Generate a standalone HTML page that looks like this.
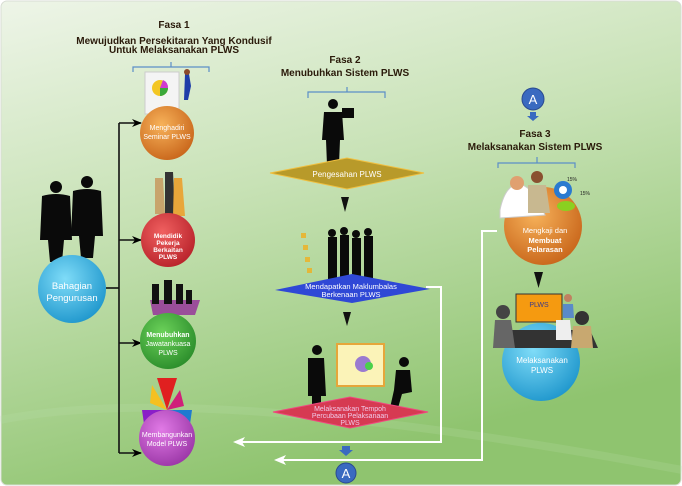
<!DOCTYPE html>
<html><head><meta charset="utf-8"><style>
html,body{margin:0;padding:0;background:#fff;}
svg{display:block;}
text{font-family:"Liberation Sans",sans-serif;}
</style></head><body>
<svg width="682" height="486" viewBox="0 0 682 486" xmlns="http://www.w3.org/2000/svg">
<defs>
<linearGradient id="bg" x1="0" y1="0" x2="0.35" y2="1">
<stop offset="0" stop-color="#eef5e8"/><stop offset="0.45" stop-color="#c8e2b6"/><stop offset="1" stop-color="#8fc46f"/>
</linearGradient>
<radialGradient id="gO" cx="0.4" cy="0.35" r="0.7"><stop offset="0" stop-color="#f7b25a"/><stop offset="1" stop-color="#c8651a"/></radialGradient>
<radialGradient id="gR" cx="0.4" cy="0.35" r="0.7"><stop offset="0" stop-color="#f06060"/><stop offset="1" stop-color="#b8222a"/></radialGradient>
<radialGradient id="gG" cx="0.4" cy="0.35" r="0.7"><stop offset="0" stop-color="#6cd25a"/><stop offset="1" stop-color="#2a8c2a"/></radialGradient>
<radialGradient id="gP" cx="0.4" cy="0.35" r="0.7"><stop offset="0" stop-color="#e17ae6"/><stop offset="1" stop-color="#9a36a6"/></radialGradient>
<radialGradient id="gB" cx="0.4" cy="0.35" r="0.7"><stop offset="0" stop-color="#7fdcf8"/><stop offset="1" stop-color="#1e96cc"/></radialGradient>
<marker id="ah" markerWidth="10" markerHeight="8" refX="9" refY="4" orient="auto" markerUnits="userSpaceOnUse"><path d="M0,0 L10,4 L0,8 L3,4z" fill="#000"/></marker>
</defs>
<rect x="0" y="0" width="682" height="486" fill="#fff"/>
<rect x="1" y="1" width="680" height="484" rx="6" fill="url(#bg)" stroke="#d8ddd4"/>
<path d="M0,420 Q200,380 682,470" stroke="#bfe0ad" stroke-width="8" fill="none" opacity="0.2"/>

<g font-weight="bold" font-size="10" fill="#2a1a0a" text-anchor="middle">
<text x="174" y="28">Fasa 1</text>
<text x="174" y="44">Mewujudkan Persekitaran Yang Kondusif</text>
<text x="174" y="53">Untuk Melaksanakan PLWS</text>
<text x="345" y="63">Fasa 2</text>
<text x="345" y="76">Menubuhkan Sistem PLWS</text>
<text x="535" y="137">Fasa 3</text>
<text x="535" y="150">Melaksanakan Sistem PLWS</text>
</g>
<g stroke="#5b8ec7" stroke-width="1.2" fill="none">
<path d="M133,72 V67 H171 V62 M171,67 H209 V72"/>
<path d="M308,98 V92 H347 V87 M347,92 H385 V98"/>
<path d="M498,168 V163 H537 V157 M537,163 H575 V168"/>
</g>

<g stroke="#111" stroke-width="1.6" fill="none">
<path d="M106,288 H119"/>
<path d="M119,123 V453"/>
<path d="M119,123 H141" marker-end="url(#ah)"/>
<path d="M119,240 H141" marker-end="url(#ah)"/>
<path d="M119,343 H141" marker-end="url(#ah)"/>
<path d="M119,453 H141" marker-end="url(#ah)"/>
</g>

<g fill="#0a0a0a">
<circle cx="56" cy="187" r="6"/><path d="M42,196 Q56,192 70,196 L72,240 L64,240 L62,262 L50,262 L48,240 L40,240Z"/>
<circle cx="87" cy="182" r="6"/><path d="M73,191 Q87,187 101,191 L103,236 L95,236 L93,258 L81,258 L79,236 L71,236Z"/>
</g>
<circle cx="72" cy="289" r="34" fill="url(#gB)"/>
<text x="72" y="289" font-size="9.5" fill="#fff" text-anchor="middle">Bahagian</text>
<text x="72" y="301" font-size="9.5" fill="#fff" text-anchor="middle">Pengurusan</text>

<rect x="145" y="72" width="34" height="42" fill="#f4f4f4" stroke="#ccc"/>
<circle cx="160" cy="88" r="8" fill="#f3c623"/><path d="M160,88 L168,88 A8,8 0 0 0 163,80Z" fill="#d03ad0"/><path d="M160,88 L160,96 A8,8 0 0 0 168,88Z" fill="#3aa83a"/>
<path d="M185,74 l4,0 l2,12 l-3,14 l-4,0z" fill="#1e3ea8"/><circle cx="187" cy="72" r="3" fill="#8b4a2a"/>
<circle cx="167" cy="133" r="27" fill="url(#gO)"/>
<text x="167" y="130" font-size="7" fill="#fff" text-anchor="middle">Menghadiri</text>
<text x="167" y="139" font-size="7" fill="#fff" text-anchor="middle">Seminar PLWS</text>
<path d="M155,178 l8,0 l2,36 l-10,0z" fill="#c8a46c"/><path d="M165,172 l8,0 l2,42 l-10,0z" fill="#333"/><path d="M174,178 l8,0 l3,38 l-12,0z" fill="#e8a63a"/>
<circle cx="168" cy="240" r="27" fill="url(#gR)"/>
<g font-size="6.5" font-weight="bold" fill="#fff" text-anchor="middle"><text x="168" y="238">Mendidik</text><text x="168" y="245">Pekerja</text><text x="168" y="252">Berkaitan</text><text x="168" y="259">PLWS</text></g>
<path d="M150,300 l50,0 l-5,15 l-42,0z" fill="#9a4e9a"/>
<g fill="#111"><rect x="152" y="284" width="7" height="20"/><rect x="164" y="280" width="8" height="24"/><rect x="176" y="284" width="7" height="20"/><rect x="186" y="290" width="6" height="14"/></g>
<circle cx="168" cy="341" r="28" fill="url(#gG)"/>
<g font-size="7" fill="#fff" text-anchor="middle"><text x="168" y="337" font-weight="bold">Menubuhkan</text><text x="168" y="346">Jawatankuasa</text><text x="168" y="355">PLWS</text></g>
<g><path d="M167,410 L157,378 L177,378Z" fill="#e02020"/><path d="M167,410 L152,385 L150,403Z" fill="#f5c020"/><path d="M167,410 L142,410 L144,424Z" fill="#8a1ec8"/><path d="M167,410 L192,410 L190,424Z" fill="#1e7ad0"/><path d="M167,410 L180,390 L184,406Z" fill="#d0207a"/></g>
<circle cx="167" cy="438" r="28" fill="url(#gP)"/>
<g font-size="7" fill="#fff" text-anchor="middle"><text x="167" y="437">Membangunkan</text><text x="167" y="446">Model PLWS</text></g>

<g fill="#0a0a0a"><circle cx="333" cy="104" r="5"/><path d="M324,112 l18,0 l2,28 l-4,0 l-1,25 l-12,0 l-1,-25 l-4,0z"/><rect x="342" y="108" width="12" height="10"/></g>
<polygon points="270,173 347,158 424,173 347,189" fill="#b89a2a" stroke="#f0c040" stroke-width="1"/>
<text x="347" y="177" font-size="8" fill="#fff" text-anchor="middle">Pengesahan PLWS</text>
<path d="M341,197 L349,197 L345,212 Z" fill="#111"/>

<g fill="#f0b020" opacity="0.8"><rect x="301" y="233" width="5" height="5"/><rect x="303" y="245" width="5" height="5"/><rect x="305" y="257" width="5" height="5"/><rect x="307" y="268" width="5" height="5"/></g>
<g fill="#0a0a0a"><rect x="328" y="237" width="9" height="44"/><rect x="340" y="235" width="9" height="46"/><rect x="352" y="238" width="9" height="43"/><rect x="364" y="236" width="9" height="45"/><circle cx="332" cy="233" r="4"/><circle cx="344" cy="231" r="4"/><circle cx="356" cy="234" r="4"/><circle cx="368" cy="232" r="4"/></g>
<polygon points="275,290 352,274 430,289 352,303" fill="#2f48d6"/>
<g font-size="7.5" fill="#fff" text-anchor="middle"><text x="351" y="289">Mendapatkan Maklumbalas</text><text x="351" y="297">Berkenaan PLWS</text></g>
<path d="M343,312 L351,312 L347,326 Z" fill="#111"/>

<rect x="337" y="344" width="47" height="42" fill="#fbf3b8" stroke="#e6a63a" stroke-width="2"/>
<circle cx="363" cy="364" r="8" fill="#9a7ad0"/><circle cx="369" cy="366" r="4" fill="#4ad04a"/>
<g fill="#0a0a0a"><circle cx="317" cy="350" r="5"/><path d="M308,358 l16,0 l2,38 l-5,0 l0,10 l-9,0 l0,-10 l-4,0z"/><circle cx="404" cy="362" r="5"/><path d="M396,370 l14,0 l2,22 l-10,2 l-4,14 l-8,0 l4,-18z"/></g>
<polygon points="273,412 350,397 428,412 350,428" fill="#d63a52" stroke="#f04880" stroke-width="1"/>
<g font-size="7" fill="#f0c8e8" text-anchor="middle"><text x="350" y="411">Melaksanakan Tempoh</text><text x="350" y="418">Percubaan Pelaksanaan</text><text x="350" y="425">PLWS</text></g>

<g stroke="#fff" stroke-width="2" fill="none">
<path d="M426,287 H441 V442 H240"/>
<path d="M497,231 H482 V460 H280"/>
</g>
<path d="M233,442 L245,437 L242,442 L245,447Z" fill="#fff"/>
<path d="M274,460 L286,455 L283,460 L286,465Z" fill="#fff"/>
<path d="M342,446 H350 V450 H353 L346,456 L339,450 H342Z" fill="#3a6ac0"/>
<circle cx="346" cy="473" r="10" fill="#3a6ac0" stroke="#2a4a90"/>
<text x="346" y="478" font-size="13" fill="#fff" text-anchor="middle">A</text>

<circle cx="533" cy="99" r="11" fill="#3a6ac0" stroke="#2a4a90"/>
<text x="533" y="104" font-size="13" fill="#fff" text-anchor="middle">A</text>
<path d="M530,112 H536 V116 H539 L533,121 L527,116 H530Z" fill="#3a6ac0"/>
<circle cx="543" cy="226" r="39" fill="url(#gO)"/>
<path d="M500,210 Q505,185 520,183 L535,193 L545,215 L500,218Z" fill="#fff" stroke="#ccc"/>
<circle cx="517" cy="183" r="7" fill="#e0a070"/><circle cx="537" cy="177" r="6" fill="#8a5030"/>
<path d="M528,185 l18,0 l4,28 l-22,0z" fill="#c8b890"/>
<circle cx="563" cy="190" r="9" fill="#2a7ad0"/><circle cx="563" cy="190" r="4" fill="#fff"/><ellipse cx="566" cy="206" rx="9" ry="5" fill="#8ad020"/>
<text x="567" y="181" font-size="5" fill="#222">15%</text><text x="580" y="195" font-size="5" fill="#222">15%</text>
<g font-size="7.5" fill="#fff" text-anchor="middle"><text x="545" y="233">Mengkaji dan</text><text x="545" y="243" font-weight="bold">Membuat</text><text x="545" y="252" font-weight="bold">Pelarasan</text></g>
<path d="M534,272 L543,272 L538.5,288 Z" fill="#111"/>
<circle cx="541" cy="362" r="39" fill="url(#gB)"/>
<rect x="516" y="294" width="46" height="28" fill="#f59a10" stroke="#333"/>
<text x="539" y="307" font-size="7" fill="#3a3a8a" text-anchor="middle">PLWS</text>
<path d="M493,348 L598,348 L590,330 L500,330Z" fill="#333"/>
<circle cx="503" cy="312" r="7" fill="#444"/><path d="M495,320 l16,0 l4,28 l-22,0z" fill="#666"/>
<circle cx="582" cy="318" r="7" fill="#333"/><path d="M573,326 l18,0 l2,22 l-22,0z" fill="#c8a870"/>
<circle cx="568" cy="298" r="4" fill="#c08060"/><path d="M563,304 l10,0 l1,14 l-11,0z" fill="#5a8ac8"/>
<path d="M556,320 l14,0 l2,20 l-16,0z" fill="#eee"/>
<g font-size="8" fill="#fff" text-anchor="middle"><text x="542" y="363">Melaksanakan</text><text x="542" y="373">PLWS</text></g>
</svg>
</body></html>
